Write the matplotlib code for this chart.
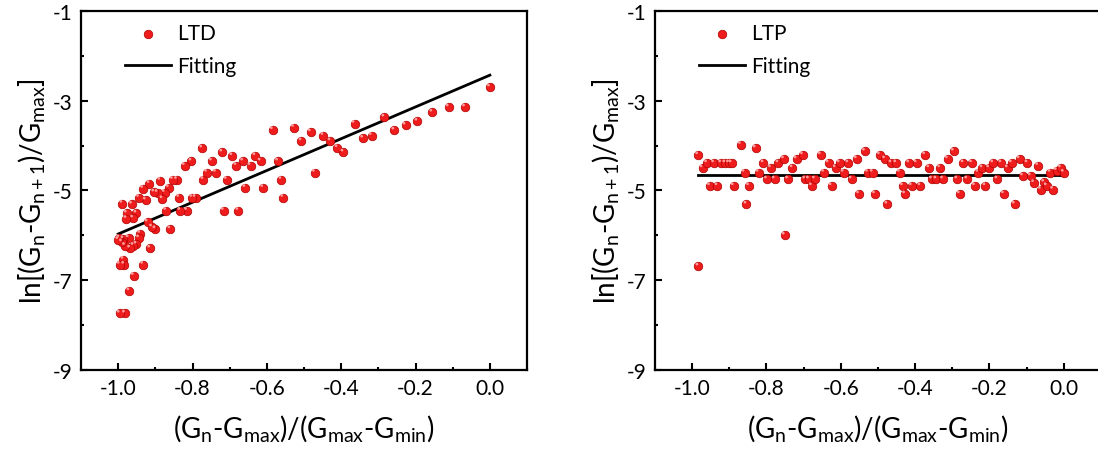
import numpy as np
import matplotlib
matplotlib.use("Agg")
import matplotlib.pyplot as plt
from matplotlib.ticker import MultipleLocator, FixedLocator, FormatStrFormatter

plt.rcParams['font.family'] = ['Lato', 'DejaVu Sans']
plt.rcParams['mathtext.fontset'] = 'custom'
plt.rcParams['mathtext.rm'] = 'Lato'
plt.rcParams['mathtext.it'] = 'Lato:italic'
plt.rcParams['axes.unicode_minus'] = False

# LTD data
ltd_x = [0.0, -0.067, -0.111, -0.155, -0.195, -0.227, -0.257, -0.284, -0.318, -0.341,
         -0.364, -0.394, -0.41, -0.429, -0.448, -0.471, -0.482, -0.507, -0.527, -0.556,
         -0.561, -0.570, -0.584, -0.610, -0.617, -0.631, -0.644, -0.658, -0.664, -0.677,
         -0.682, -0.693, -0.708, -0.716, -0.720, -0.737, -0.748, -0.761, -0.771, -0.774,
         -0.792, -0.801, -0.803, -0.815, -0.821, -0.833, -0.836, -0.842, -0.853, -0.860,
         -0.864, -0.871, -0.875, -0.881, -0.887, -0.894, -0.903, -0.900, -0.909, -0.916,
         -0.914, -0.921, -0.926, -0.933, -0.933, -0.944, -0.941, -0.944, -0.951, -0.951,
         -0.958, -0.960, -0.963, -0.959, -0.968, -0.970, -0.972, -0.977, -0.978, -0.982,
         -0.982, -0.986, -0.989, -0.986, -0.984, -0.990, -0.996, -0.996, -0.997, -1.0]
ltd_y = [-2.70, -3.145, -3.145, -3.26, -3.46, -3.55, -3.66, -3.37, -3.78, -3.84,
         -3.51, -4.15, -4.05, -3.90, -3.78, -4.60, -3.70, -3.90, -3.60, -5.16,
         -4.76, -4.35, -3.65, -4.94, -4.35, -4.23, -4.45, -4.94, -4.35, -5.45,
         -4.45, -4.23, -4.76, -5.45, -4.15, -4.60, -4.35, -4.60, -4.76, -4.06,
         -5.16, -5.16, -4.35, -5.45, -4.45, -5.45, -5.16, -4.76, -4.76, -5.86,
         -4.94, -5.45, -5.05, -5.19, -4.78, -5.05, -5.04, -5.86, -5.82, -4.85,
         -6.29, -5.71, -5.22, -4.96, -6.65, -5.16, -5.96, -6.06, -5.51, -6.20,
         -6.90, -5.62, -5.31, -6.23, -6.29, -7.24, -6.06, -5.51, -5.63, -6.23,
         -7.74, -6.54, -5.29, -6.08, -6.65, -6.15, -7.74, -6.65, -6.06, -6.10]
ltd_fit_x = [-1.0, 0.0]
ltd_fit_y = [-5.97, -2.43]

# LTP data
ltp_x = [-0.984, -0.983, -0.972, -0.960, -0.952, -0.941, -0.932, -0.922, -0.911, -0.901,
         -0.894, -0.888, -0.869, -0.859, -0.854, -0.847, -0.829, -0.821, -0.808, -0.799,
         -0.788, -0.778, -0.768, -0.753, -0.751, -0.742, -0.730, -0.719, -0.702, -0.696,
         -0.686, -0.678, -0.670, -0.654, -0.645, -0.633, -0.625, -0.614, -0.603, -0.592,
         -0.580, -0.571, -0.557, -0.551, -0.535, -0.527, -0.514, -0.508, -0.495, -0.481,
         -0.475, -0.464, -0.451, -0.441, -0.433, -0.427, -0.416, -0.409, -0.396, -0.386,
         -0.373, -0.362, -0.355, -0.343, -0.333, -0.325, -0.312, -0.296, -0.287, -0.280,
         -0.270, -0.260, -0.247, -0.239, -0.230, -0.219, -0.211, -0.201, -0.190, -0.179,
         -0.168, -0.161, -0.151, -0.140, -0.132, -0.119, -0.110, -0.098, -0.089, -0.080,
         -0.069, -0.062, -0.053, -0.046, -0.036, -0.029, -0.019, -0.008, 0.0]
ltp_y = [-4.21, -6.69, -4.50, -4.39, -4.90, -4.39, -4.90, -4.39, -4.39, -4.39,
         -4.39, -4.90, -3.98, -4.60, -5.31, -4.90, -4.06, -4.60, -4.39, -4.75,
         -4.50, -4.75, -4.39, -4.30, -6.00, -4.75, -4.50, -4.30, -4.21, -4.75,
         -4.75, -4.90, -4.75, -4.21, -4.60, -4.39, -4.90, -4.50, -4.39, -4.60,
         -4.39, -4.75, -4.30, -5.08, -4.13, -4.60, -4.60, -5.08, -4.21, -4.30,
         -5.31, -4.39, -4.39, -4.60, -4.90, -5.08, -4.39, -4.90, -4.39, -4.90,
         -4.21, -4.50, -4.75, -4.75, -4.50, -4.75, -4.30, -4.13, -4.75, -5.08,
         -4.39, -4.75, -4.39, -4.90, -4.60, -4.50, -4.90, -4.50, -4.39, -4.75,
         -4.39, -5.08, -4.50, -4.39, -5.31, -4.30, -4.68, -4.39, -4.68, -4.83,
         -4.45, -4.98, -4.82, -4.90, -4.60, -4.98, -4.56, -4.50, -4.60]
ltp_fit_x = [-0.985, 0.0]
ltp_fit_y = [-4.65, -4.65]

y_ticks = [-9, -7, -5, -3, -1]
y_minor = [-8, -6, -4, -2]

FONTSIZE = 15
LABELSIZE = 20

fig = plt.figure(figsize=(10.98, 4.52), dpi=100)
ax1 = fig.add_axes([0.0738, 0.1792, 0.4062, 0.7943])
ax2 = fig.add_axes([0.5965, 0.1792, 0.4062, 0.7943])


def draw_panel(ax, x, y, fx, fy, name):
    ax.scatter(x, y, s=38, color="#ee1c1c", edgecolors="#b00000", linewidths=0.5,
               zorder=3, label=name)
    # glossy highlight
    ax.scatter(np.array(x) - 0.004, np.array(y) + 0.05, s=4, color="#ff9a9a",
               edgecolors="none", zorder=4)
    ax.plot(fx, fy, color="black", lw=2, label="Fitting", zorder=2)
    ax.set_xlim(-1.1, 0.1)
    ax.set_ylim(-9, -1)
    ax.xaxis.set_major_locator(MultipleLocator(0.2))
    ax.xaxis.set_minor_locator(MultipleLocator(0.1))
    ax.yaxis.set_major_locator(FixedLocator(y_ticks))
    ax.yaxis.set_minor_locator(FixedLocator(y_minor))
    ax.xaxis.set_major_formatter(FormatStrFormatter("%.1f"))
    ax.tick_params(which="both", direction="in", top=False, right=False,
                   labelsize=FONTSIZE, width=1.5)
    ax.tick_params(which="major", length=5, pad=6)
    ax.tick_params(which="minor", length=2.5)
    for sp in ax.spines.values():
        sp.set_linewidth(1.6)
    ax.set_xlabel(r"$\mathregular{(G_n\text{-}G_{max})/(G_{max}\text{-}G_{min})}$",
                  fontsize=LABELSIZE, labelpad=10)
    ax.set_ylabel(r"$\mathregular{ln[(G_n\text{-}G_{n+1})/G_{max}]}$",
                  fontsize=LABELSIZE, labelpad=4)
    ax.legend(loc="upper left", frameon=False, fontsize=FONTSIZE, handlelength=2.2,
              handletextpad=0.3, labelspacing=0.6,
              borderaxespad=0.2, bbox_to_anchor=(0.07, 1.0))


draw_panel(ax1, ltd_x, ltd_y, ltd_fit_x, ltd_fit_y, "LTD")
draw_panel(ax2, ltp_x, ltp_y, ltp_fit_x, ltp_fit_y, "LTP")

fig.savefig("out.png", dpi=100)
